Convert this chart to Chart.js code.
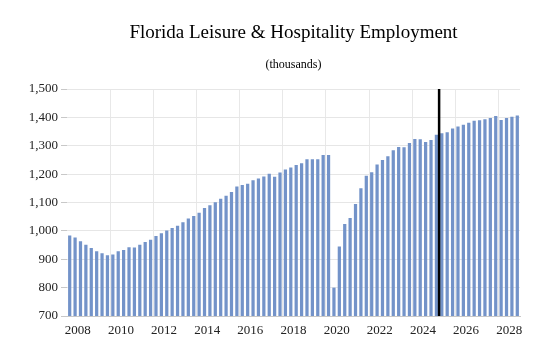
<!DOCTYPE html>
<html>
<head>
<meta charset="utf-8">
<script src="https://cdn.jsdelivr.net/npm/chart.js@4/dist/chart.umd.min.js"></script>
<style>
  html, body { margin: 0; padding: 0; background: #fff; }
  #wrap { width: 559px; height: 362px; }
</style>
</head>
<body>
<div id="wrap"><canvas id="chart" width="559" height="362"></canvas></div>
<script>
// chart data (thousands of jobs, quarterly, 2008 Q1 - 2028 Q4)
const years = [2008, 2009, 2010, 2011, 2012, 2013, 2014, 2015, 2016, 2017, 2018,
               2019, 2020, 2021, 2022, 2023, 2024, 2025, 2026, 2027, 2028];
const quarterNames = ['Q1', 'Q2', 'Q3', 'Q4'];
const yearTicks = ['2008', '2010', '2012', '2014', '2016', '2018', '2020', '2022', '2024', '2026', '2028'];
const yTicks = [700, 800, 900, 1000, 1100, 1200, 1300, 1400, 1500];

const employment = [
  984, 977, 963, 951,   940, 928, 921, 914,   917, 928, 933, 942,
  941, 951, 961, 969,   982, 992, 1001, 1010, 1018, 1030, 1044, 1052,
  1064, 1081, 1090, 1101, 1113, 1124, 1137, 1156, 1162, 1166, 1178, 1185,
  1192, 1201, 1191, 1206, 1216, 1223, 1232, 1238, 1252, 1252, 1252, 1267,
  1267, 800, 945, 1024,  1045, 1095, 1150, 1194, 1207, 1234, 1250, 1263,
  1284, 1296, 1295, 1310, 1324, 1323, 1313, 1320, 1339, 1344, 1348, 1361,
  1368, 1374, 1381, 1388, 1390, 1393, 1398, 1405, 1391, 1398, 1402, 1407
];
const forecastAfter = '2025 Q1';

const title = 'Florida Leisure & Hospitality Employment';
const subtitle = '(thousands)';

const labels = [];
years.forEach(y => quarterNames.forEach(q => labels.push(y + ' ' + q)));

const serif = '"Liberation Serif", "Times New Roman", serif';

// forecast divider + centred titles
const overlay = {
  id: 'overlay',
  afterDatasetsDraw(chart){
    const {ctx, chartArea, scales} = chart;
    const i = labels.indexOf(forecastAfter);
    const px = (scales.x.getPixelForValue(i) + scales.x.getPixelForValue(i + 1)) / 2;
    ctx.save();
    ctx.strokeStyle = '#000';
    ctx.lineWidth = 2.5;
    ctx.beginPath();
    ctx.moveTo(px, scales.y.getPixelForValue(yTicks[yTicks.length - 1]));
    ctx.lineTo(px, scales.y.getPixelForValue(yTicks[0]));
    ctx.stroke();

    const cx = (chartArea.left + chartArea.right) / 2;
    ctx.fillStyle = '#000';
    ctx.textAlign = 'center';
    ctx.textBaseline = 'middle';
    ctx.font = '19px ' + serif;
    ctx.fillText(title, cx, 33);
    ctx.font = '12px ' + serif;
    ctx.fillText(subtitle, cx, 65);
    ctx.restore();
  }
};

new Chart(document.getElementById('chart'), {
  type: 'bar',
  data: {
    labels: labels,
    datasets: [{
      data: employment,
      backgroundColor: '#7393c9',
      barPercentage: 0.6,
      categoryPercentage: 1.0
    }]
  },
  options: {
    responsive: false,
    animation: false,
    layout: { padding: { top: 89, right: 39, left: 0, bottom: 0 } },
    plugins: { legend: { display: false }, tooltip: { enabled: false } },
    scales: {
      x: {
        afterFit: s => { s.height = 46; },
        grid: {
          offset: true,
          drawTicks: false,
          color: c => (c.index > 0 && c.index % 8 === 0) ? '#e8e8e8' : 'rgba(0,0,0,0)'
        },
        border: { color: '#c8c8c8' },
        ticks: {
          autoSkip: false,
          maxRotation: 0,
          padding: 7,
          labelOffset: 2.7,
          color: '#222',
          font: { family: serif, size: 13 },
          callback: (v, i) => i % 8 === 1 ? yearTicks[(i - 1) / 8] : ''
        }
      },
      y: {
        min: yTicks[0],
        max: yTicks[yTicks.length - 1],
        afterFit: s => { s.width = 67; },
        afterBuildTicks: s => { s.ticks = yTicks.map(v => ({ value: v })); },
        grid: { color: '#e6e6e6', tickLength: 6, tickColor: '#c8c8c8' },
        border: { display: false },
        ticks: {
          padding: 3,
          color: '#222',
          font: { family: serif, size: 13 },
          callback: v => v.toLocaleString('en-US')
        }
      }
    }
  },
  plugins: [overlay]
});
</script>
</body>
</html>
